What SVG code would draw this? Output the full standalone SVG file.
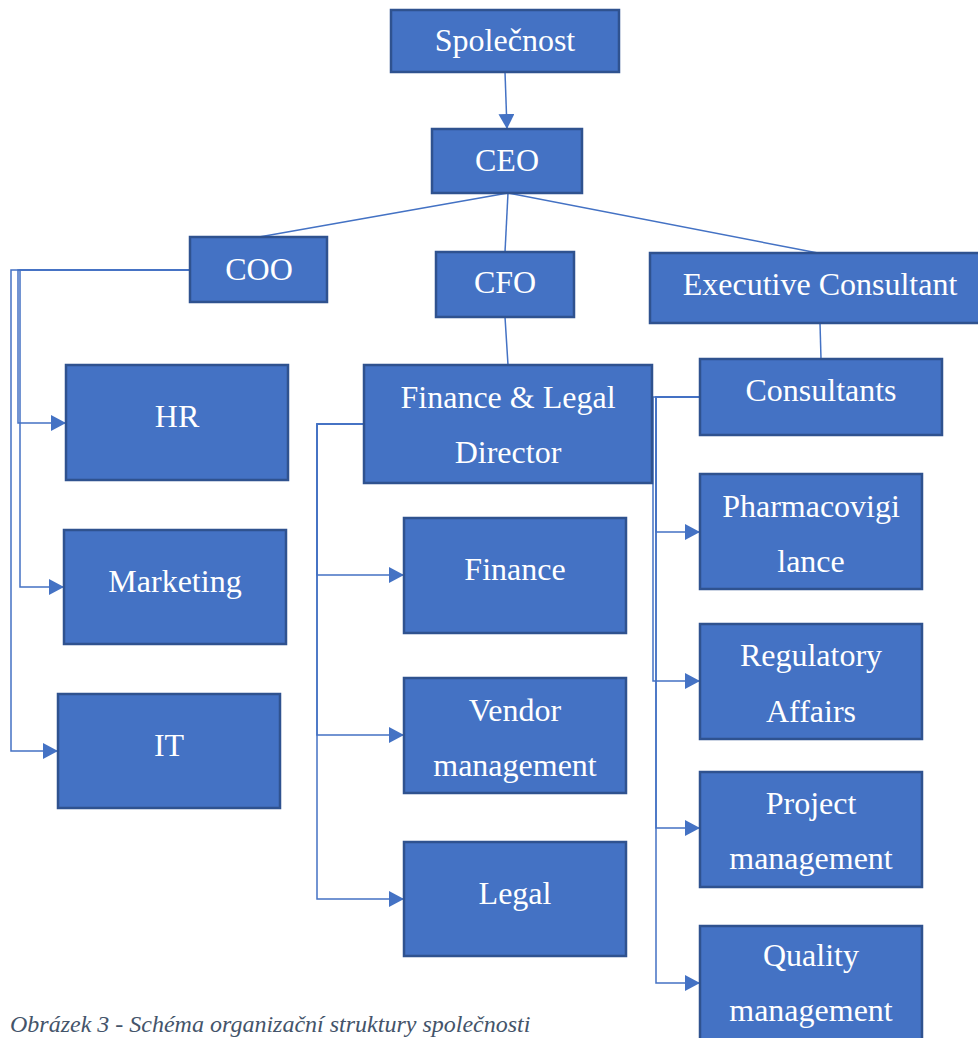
<svg xmlns="http://www.w3.org/2000/svg" width="978" height="1038" viewBox="0 0 978 1038">
<style>
.box{fill:#4472C4;stroke:#2F528F;stroke-width:2.5}
.t{font-family:"Liberation Serif","Times New Roman",serif;font-size:32px;fill:#FFFFFF;text-anchor:middle}
.c{fill:none;stroke:#4472C4;stroke-width:1.5}
.cap{font-family:"Liberation Serif","Times New Roman",serif;font-size:24px;font-style:italic;fill:#44546A}
</style>
<defs>
<marker id="arr" markerUnits="userSpaceOnUse" markerWidth="16" markerHeight="16" refX="15" refY="8" orient="auto">
<path d="M0,0 L15,8 L0,16 Z" fill="#4472C4"/>
</marker>
</defs>
<rect width="978" height="1038" fill="#FFFFFF"/>
<g id="connectors">
<path class="c" d="M505,72 L507,129" marker-end="url(#arr)"/>
<path class="c" d="M508,193 L259,237"/>
<path class="c" d="M508,193 L505,252"/>
<path class="c" d="M508,193 L818,253"/>
<path class="c" d="M505,317 L508,365"/>
<path class="c" d="M820,323 L821,359"/>
<path class="c" d="M190,270 H18 V423 H66" marker-end="url(#arr)"/>
<path class="c" d="M190,270 H20 V587 H64" marker-end="url(#arr)"/>
<path class="c" d="M190,270 H11 V751 H58" marker-end="url(#arr)"/>
<path class="c" d="M364,424 H317 V575 H404" marker-end="url(#arr)"/>
<path class="c" d="M364,424 H317 V735 H404" marker-end="url(#arr)"/>
<path class="c" d="M364,424 H317 V899 H404" marker-end="url(#arr)"/>
<path class="c" d="M700,397 H656 V532 H700" marker-end="url(#arr)"/>
<path class="c" d="M700,397 H653 V681 H700" marker-end="url(#arr)"/>
<path class="c" d="M700,397 H656 V828 H700" marker-end="url(#arr)"/>
<path class="c" d="M700,397 H656 V983 H700" marker-end="url(#arr)"/>
</g>
<g id="n-spolecnost"><rect class="box" x="391" y="10" width="228" height="62"/><text class="t" x="505" y="51">Společnost</text></g>
<g id="n-ceo"><rect class="box" x="432" y="129" width="150" height="64"/><text class="t" x="507" y="171">CEO</text></g>
<g id="n-coo"><rect class="box" x="190" y="237" width="137" height="65"/><text class="t" x="259" y="280">COO</text></g>
<g id="n-cfo"><rect class="box" x="436" y="252" width="138" height="65"/><text class="t" x="505" y="293">CFO</text></g>
<g id="n-exec"><rect class="box" x="650" y="253" width="330" height="70"/><text class="t" x="820" y="295">Executive Consultant</text></g>
<g id="n-consultants"><rect class="box" x="700" y="359" width="242" height="76"/><text class="t" x="821" y="401">Consultants</text></g>
<g id="n-fld"><rect class="box" x="364" y="365" width="288" height="118"/><text class="t" x="508" y="408">Finance &amp; Legal</text><text class="t" x="508" y="463">Director</text></g>
<g id="n-hr"><rect class="box" x="66" y="365" width="222" height="115"/><text class="t" x="177" y="427">HR</text></g>
<g id="n-marketing"><rect class="box" x="64" y="530" width="222" height="114"/><text class="t" x="175" y="592">Marketing</text></g>
<g id="n-it"><rect class="box" x="58" y="694" width="222" height="114"/><text class="t" x="169" y="756">IT</text></g>
<g id="n-finance"><rect class="box" x="404" y="518" width="222" height="115"/><text class="t" x="515" y="580">Finance</text></g>
<g id="n-vendor"><rect class="box" x="404" y="678" width="222" height="115"/><text class="t" x="515" y="721">Vendor</text><text class="t" x="515" y="776">management</text></g>
<g id="n-legal"><rect class="box" x="404" y="842" width="222" height="114"/><text class="t" x="515" y="904">Legal</text></g>
<g id="n-pharma"><rect class="box" x="700" y="474" width="222" height="115"/><text class="t" x="811" y="517">Pharmacovigi</text><text class="t" x="811" y="572">lance</text></g>
<g id="n-regulatory"><rect class="box" x="700" y="624" width="222" height="115"/><text class="t" x="811" y="666">Regulatory</text><text class="t" x="811" y="722">Affairs</text></g>
<g id="n-project"><rect class="box" x="700" y="772" width="222" height="115"/><text class="t" x="811" y="814">Project</text><text class="t" x="811" y="869">management</text></g>
<g id="n-quality"><rect class="box" x="700" y="926" width="222" height="120"/><text class="t" x="811" y="966">Quality</text><text class="t" x="811" y="1021">management</text></g>
<text class="cap" x="10" y="1032">Obrázek 3 - Schéma organizační struktury společnosti</text>
</svg>
